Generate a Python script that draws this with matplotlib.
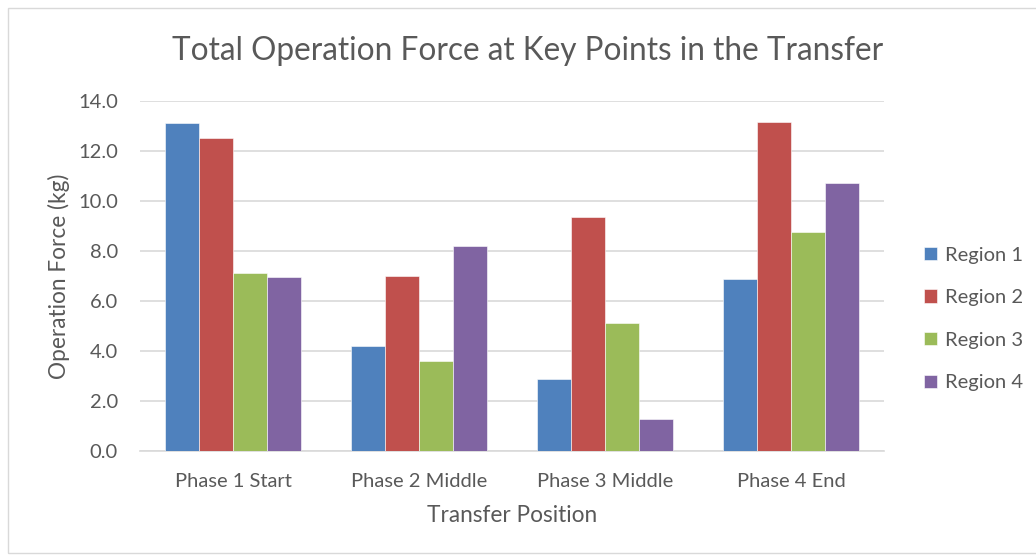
import matplotlib
matplotlib.use("Agg")
import matplotlib.pyplot as plt
import numpy as np
from matplotlib.patches import Rectangle

categories = ["Phase 1 Start", "Phase 2 Middle", "Phase 3 Middle", "Phase 4 End"]
series_names = ["Region 1", "Region 2", "Region 3", "Region 4"]
region1 = [13.13, 4.20, 2.90, 6.87]
region2 = [12.51, 7.01, 9.36, 13.15]
region3 = [7.13, 3.62, 5.14, 8.75]
region4 = [6.95, 8.21, 1.28, 10.72]
yticks = [0, 2, 4, 6, 8, 10, 12, 14]

colors = ["#4F81BD", "#C0504D", "#9BBB59", "#8064A2"]
txt = "#595959"
plt.rcParams['font.family'] = ['Lato', 'DejaVu Sans']

fig = plt.figure(figsize=(10.36, 5.56), dpi=100)
fig.patches.append(Rectangle((8/1036, 3/556), 1.2, 545/556, transform=fig.transFigure,
                             fill=False, edgecolor="#D9D9D9", linewidth=1))
ax = fig.add_axes([140/1036, 1 - 451/556, 744/1036, 350/556])

x = np.arange(len(categories))
bw = 0.183
data = [region1, region2, region3, region4]
for i, (vals, c, name) in enumerate(zip(data, colors, series_names)):
    ax.bar(x + (i - 1.5) * bw, vals, bw, color=c, label=name, edgecolor="white", linewidth=0.4, zorder=3)

ax.set_xlim(-0.5, 3.5)
ax.set_ylim(0, 14)
ax.set_yticks(yticks)
ax.set_yticklabels([f"{v:.1f}" for v in yticks])
ax.set_xticks(x)
ax.set_xticklabels(categories)
ax.tick_params(axis='both', length=0, labelsize=14.5, colors=txt)
ax.tick_params(axis='x', pad=16)
ax.tick_params(axis='y', pad=16)
ax.grid(axis='y', color="#D9D9D9", linewidth=1.2, zorder=0)
for s in ["top", "right", "left"]:
    ax.spines[s].set_visible(False)
ax.spines["bottom"].set_color("#D9D9D9")
ax.spines["bottom"].set_linewidth(1.2)

ax.set_xlabel("Transfer Position", fontsize=16.3, color=txt, labelpad=11)
ax.set_ylabel("Operation Force (kg)", fontsize=16.3, color=txt, labelpad=6)
fig.text(528/1036, 1 - 51/556, "Total Operation Force at Key Points in the Transfer",
         ha="center", va="center", fontsize=22.7, color=txt)

leg = fig.legend(loc="center left", bbox_to_anchor=(906/1036, 1 - 319/556), frameon=False,
                 fontsize=14.5, labelcolor=txt, handlelength=0.65, handleheight=0.65,
                 labelspacing=1.27, handletextpad=0.4)

fig.savefig("out.png", dpi=100)
